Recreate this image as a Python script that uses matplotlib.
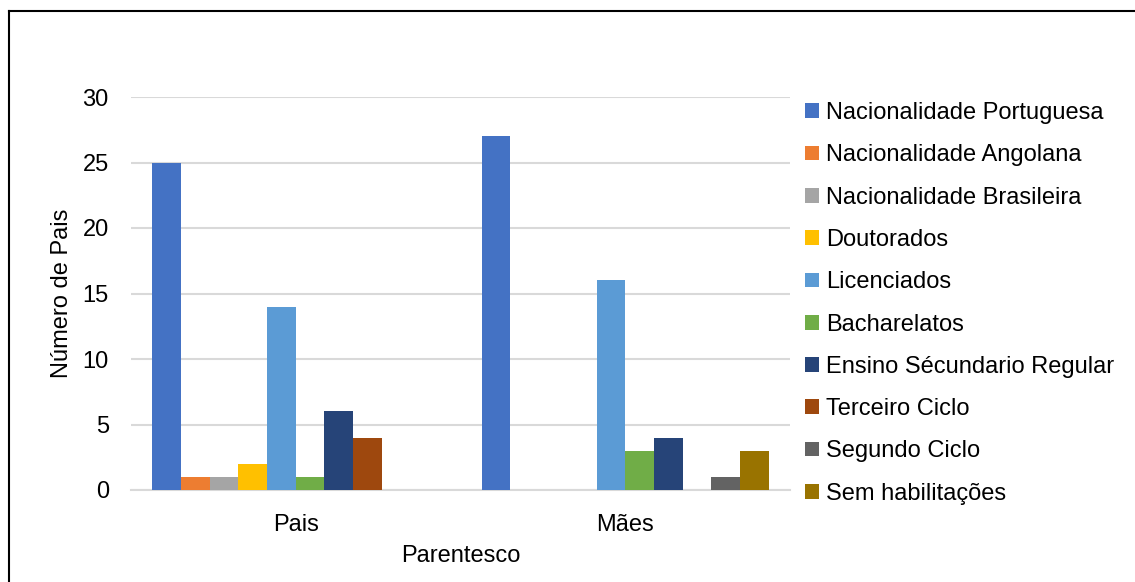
import numpy as np
import matplotlib
matplotlib.use("Agg")
import matplotlib.pyplot as plt
from matplotlib.lines import Line2D

plt.rcParams['font.family'] = ['Liberation Sans', 'DejaVu Sans']

# Categories and series
categories = ['Pais', 'Mães']
series_names = ['Nacionalidade Portuguesa', 'Nacionalidade Angolana', 'Nacionalidade Brasileira',
                'Doutorados', 'Licenciados', 'Bacharelatos', 'Ensino Sécundario Regular',
                'Terceiro Ciclo', 'Segundo Ciclo', 'Sem habilitações']
pais_values = [25, 1, 1, 2, 14, 1, 6, 4, 0, 0]
maes_values = [27, 0, 0, 0, 16, 3, 4, 0, 1, 3]
colors = ['#4472C4', '#ED7D31', '#A5A5A5', '#FFC000', '#5B9BD5',
          '#70AD47', '#264478', '#9E480E', '#636363', '#997300']
y_ticks = [0, 5, 10, 15, 20, 25, 30]

fig = plt.figure(figsize=(11.35, 5.82), dpi=100)
ax = fig.add_axes([131 / 1135, 1 - 490 / 582, 659 / 1135, 393 / 582])

x = np.arange(len(categories))
n = len(series_names)
width = 0.871 / n
for i, name in enumerate(series_names):
    vals = [pais_values[i], maes_values[i]]
    ax.bar(x - 0.4355 + width * (i + 0.5), vals, width, color=colors[i], label=name, zorder=3)

ax.set_xlim(-0.5, 1.5)
ax.set_ylim(0, 30)
ax.set_yticks(y_ticks)
ax.set_xticks(x)
ax.set_xticklabels(categories)
ax.tick_params(axis='both', length=0, labelsize=17)
ax.tick_params(axis='y', pad=16)
ax.tick_params(axis='x', pad=17)
ax.grid(axis='y', color='#D9D9D9', linewidth=1.5, zorder=0)
for s in ['top', 'right', 'left']:
    ax.spines[s].set_visible(False)
ax.spines['bottom'].set_color('#D9D9D9')
ax.spines['bottom'].set_linewidth(1.5)

ax.set_ylabel('Número de Pais', fontsize=17, labelpad=7)
ax.set_xlabel('Parentesco', fontsize=17, labelpad=7)

fig.legend(loc='upper left', bbox_to_anchor=(805 / 1135, 1 - 102 / 582), frameon=False,
           fontsize=17, handlelength=0.58, handleheight=0.58, handletextpad=0.3,
           labelspacing=0.86, borderpad=0, borderaxespad=0)

# Outer frame (only left and top edges visible in the original)
fig.add_artist(Line2D([8.5 / 1135, 8.5 / 1135], [0, 1 - 10.5 / 582], color='black', linewidth=1.5))
fig.add_artist(Line2D([8.5 / 1135, 1], [1 - 10.5 / 582, 1 - 10.5 / 582], color='black', linewidth=1.5))

fig.savefig('out.png', dpi=100)
